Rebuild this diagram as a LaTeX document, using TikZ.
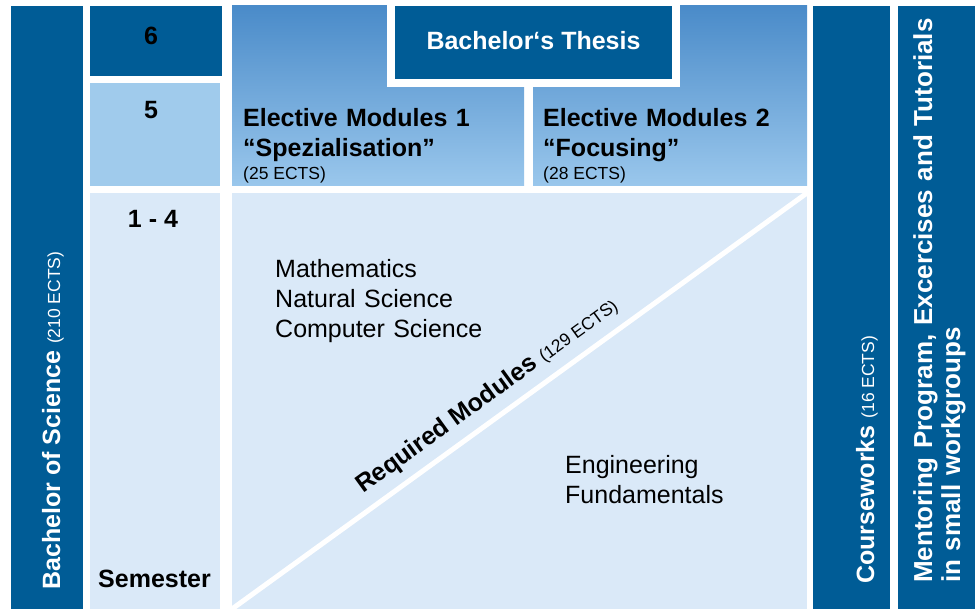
\documentclass[tikz,border=0pt]{standalone}
\usepackage{fontspec}
\setmainfont{Liberation Sans}
\usetikzlibrary{positioning}

\definecolor{unidark}{RGB}{0,92,150}
\definecolor{semblue}{RGB}{160,203,236}
\definecolor{paleblue}{RGB}{218,233,248}
\definecolor{gradtop}{RGB}{74,139,201}
\definecolor{gradbot}{RGB}{154,199,236}

\newcommand{\ectsnote}[1]{{\fontsize{17.5}{21}\selectfont\mdseries(#1 ECTS)}}

\tikzset{
  block/.style={inner sep=0pt, outer sep=0pt, anchor=north west},
  darkblock/.style={block, fill=unidark},
  gradblock/.style={block, top color=gradtop, bottom color=gradbot},
  bigtext/.style={inner sep=0pt, font=\fontsize{25}{30}\selectfont},
  boldtext/.style={inner sep=0pt, font=\fontsize{25}{30}\selectfont\bfseries},
  smalltext/.style={inner sep=0pt, font=\fontsize{17.5}{21}\selectfont}
}

\begin{document}
\begin{tikzpicture}[x=1pt,y=-1pt]
            \useasboundingbox[fill=white] (0,0) rectangle (975,609);

            \node[darkblock, minimum width=72pt, minimum height=603pt] (bachelor) at (11,6) {};
            \node[darkblock, minimum width=132pt, minimum height=70pt] (sem6) at (90,6) {};
            \node[block, fill=semblue, minimum width=130pt, minimum height=103pt] (sem5) at (90,83) {};
            \node[block, fill=paleblue, minimum width=130pt, minimum height=416pt] (sem14) at (90,193) {};

            \node[gradblock, minimum width=292pt, minimum height=180pt] (elective1) at (232,6) {};
            \node[gradblock, minimum width=274pt, minimum height=180pt] (elective2) at (533,6) {};
            \node[block, fill=unidark, draw=white, line width=8pt, minimum width=285pt, minimum height=81pt] (thesis) at (391,2) {};

            \node[block, fill=paleblue, minimum width=575pt, minimum height=416pt] (required) at (232,193) {};
            \draw[white, line width=5pt] (required.south west) -- (required.north east);

            \node[darkblock, minimum width=77pt, minimum height=603pt] (coursework) at (813,6) {};
            \node[darkblock, minimum width=77pt, minimum height=603pt] (mentoring) at (898,6) {};

            \node[boldtext, text=white, rotate=90, anchor=base west] (bachelortext) at (60,590) {Bachelor of Science \ectsnote{210}};
            \node[boldtext, anchor=base] (sem6text) at (151,45) {6};
            \node[boldtext, anchor=base] (sem5text) at (151,119) {5};
            \node[boldtext, anchor=base] (sem14text) at (153,228) {1 - 4};
            \node[boldtext, anchor=base west] (semestertext) at (98,587) {Semester};

            \node[boldtext, text=white, anchor=base] (thesistext) at (533.5,50) {Bachelor‘s Thesis};
            \node[boldtext, anchor=base west, align=left, text width=285pt] (elective1text) at (243,127) {Elective Modules 1\\“Spezialisation”};
            \node[smalltext, anchor=base west] (elective1ects) at (243,180) {(25 ECTS)};
            \node[boldtext, anchor=base west, align=left, text width=265pt] (elective2text) at (543,127) {Elective Modules 2\\“Focusing”};
            \node[smalltext, anchor=base west] (elective2ects) at (543,180) {(28 ECTS)};

            \node[bigtext, anchor=base west, align=left, text width=250pt] (sciencetext) at (275,278) {Mathematics\\Natural Science\\Computer Science};
            \node[bigtext, anchor=base west, align=left, text width=200pt] (engineeringtext) at (565,474) {Engineering\\Fundamentals};
            \node[boldtext, rotate=35.9, anchor=base west] (requiredtext) at (363,494) {Required Modules \ectsnote{129}};

            \node[boldtext, text=white, rotate=90, anchor=base west] (courseworktext) at (874,584) {Courseworks \ectsnote{16}};
            \node[boldtext, font=\fontsize{26}{28}\selectfont\bfseries, text=white, rotate=90, anchor=base west, align=left, text width=580pt] (mentoringtext) at (932,583) {Mentoring Program, Excercises and Tutorials\\in small workgroups};
\end{tikzpicture}
\end{document}
